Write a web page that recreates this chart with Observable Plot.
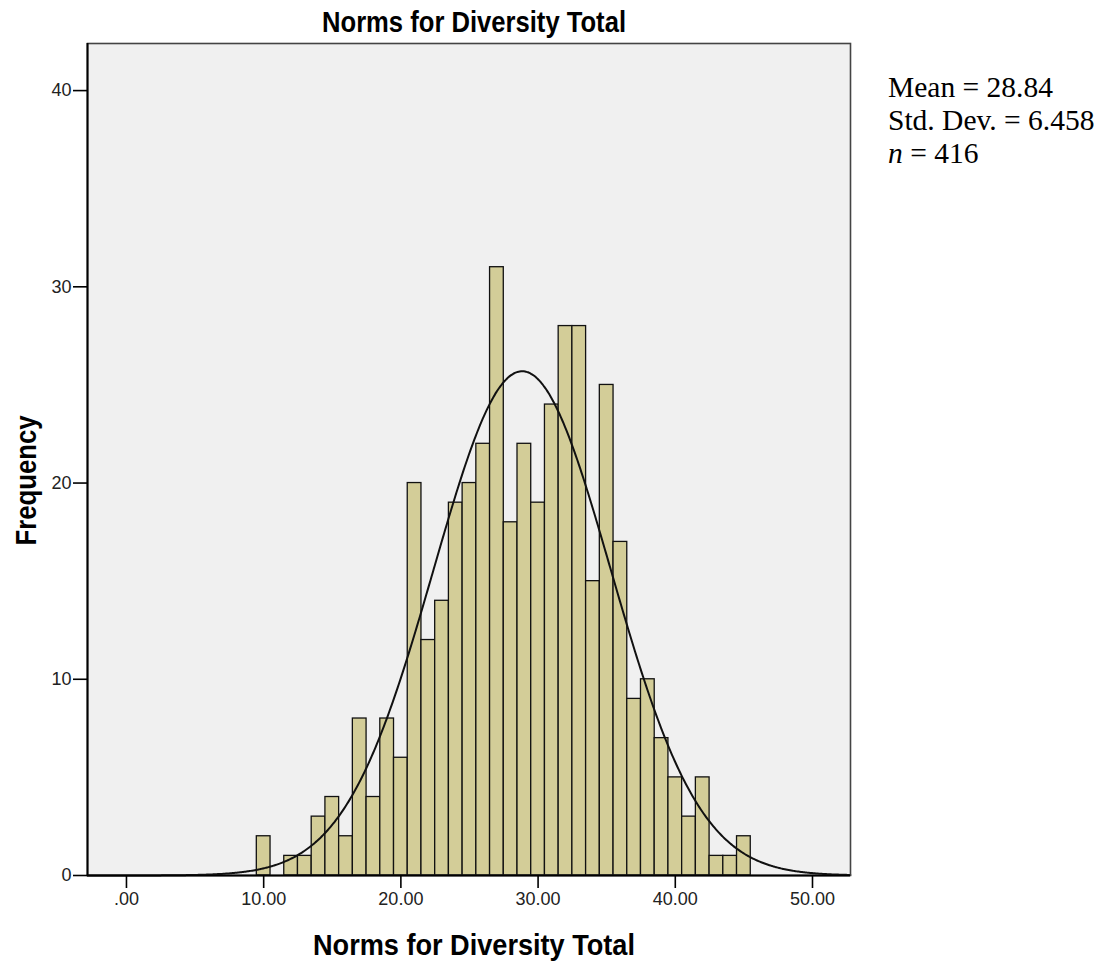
<!DOCTYPE html>
<html>
<head>
<meta charset="utf-8">
<script src="https://cdn.jsdelivr.net/npm/d3@7"></script>
<script src="https://cdn.jsdelivr.net/npm/@observablehq/plot@0.6"></script>
<style>
  html, body { margin: 0; padding: 0; background: #fff; }
  #wrap { position: relative; width: 1104px; height: 963px; }
  #stats { position: absolute; left: 888px; top: 71px; font-family: "Liberation Serif", "Times New Roman", serif; font-size: 29.5px; line-height: 33px; color: #000; white-space: nowrap; }
</style>
</head>
<body>
<div id="wrap"><div id="stats"></div></div>
<script>
// Histogram bins (centre of each 1-unit bin) and frequencies
const binCenters = [10, 11, 12, 13, 14, 15, 16, 17, 18, 19, 20, 21, 22, 23, 24, 25, 26, 27, 28, 29, 30,
                    31, 32, 33, 34, 35, 36, 37, 38, 39, 40, 41, 42, 43, 44, 45];
const frequencies = [2, 0, 1, 1, 3, 4, 2, 8, 4, 8, 6, 20, 12, 14, 19, 20, 22, 31, 18, 22, 19,
                     24, 28, 28, 15, 25, 17, 9, 10, 7, 5, 3, 5, 1, 1, 2];
const binWidth = 1;

// Summary statistics shown in the chart
const statMean = 28.84;
const statSD = 6.458;
const statN = 416;

// Axes
const xDomain = [-2.84, 52.77];
const yDomain = [0, 42.4];
const xTicks = [0, 10, 20, 30, 40, 50];
const xTickLabels = [".00", "10.00", "20.00", "30.00", "40.00", "50.00"];
const yTicks = [0, 10, 20, 30, 40];
const yTickLabels = ["0", "10", "20", "30", "40"];

const titleText = "Norms for Diversity Total";
const xLabel = "Norms for Diversity Total";
const yLabel = "Frequency";

const bars = binCenters.map((c, i) => ({x1: c - binWidth / 2, x2: c + binWidth / 2, y: frequencies[i]}))
  .filter(d => d.y > 0);

// Normal curve from the reported mean, SD and n
const curve = d3.range(xDomain[0], xDomain[1] + 0.001, 0.1).map(x => ({
  x,
  y: statN * binWidth * Math.exp(-0.5 * ((x - statMean) / statSD) ** 2) / (statSD * Math.sqrt(2 * Math.PI))
}));

const bold = "'Liberation Sans', Arial, sans-serif";

const chart = Plot.plot({
  width: 1104,
  height: 963,
  marginLeft: 87,
  marginRight: 254,
  marginTop: 43,
  marginBottom: 88,
  style: {fontFamily: "'Liberation Sans', Arial, sans-serif", fontSize: "18px", background: "#fff"},
  x: {domain: xDomain, label: null},
  y: {domain: yDomain, label: null},
  marks: [
    Plot.frame({fill: "#f0f0f0", stroke: null}),
    Plot.rectY(bars, {x1: "x1", x2: "x2", y: "y", fill: "#d3cd98", stroke: "#111", strokeWidth: 1.3}),
    Plot.line(curve, {x: "x", y: "y", stroke: "#111", strokeWidth: 2, curve: "natural"}),
    Plot.frame({stroke: "#444", strokeWidth: 1.6}),
    Plot.ruleX([xDomain[0]], {stroke: "#000", strokeWidth: 2}),
    Plot.ruleY([0], {stroke: "#000", strokeWidth: 2}),
    Plot.axisX({ticks: xTicks, tickFormat: d => xTickLabels[xTicks.indexOf(d)], tickSize: 13, tickPadding: 4, fontSize: 18, stroke: "#000", strokeWidth: 1.6, fill: "#222", label: null}),
    Plot.axisY({ticks: yTicks, tickFormat: d => yTickLabels[yTicks.indexOf(d)], tickSize: 14, tickPadding: 2, fontSize: 18, stroke: "#000", strokeWidth: 1.6, fill: "#222", label: null}),
    Plot.text([titleText], {frameAnchor: "top", textAnchor: "middle", lineAnchor: "bottom", dy: -12, dx: 5, fontSize: 29, fontWeight: "bold", fontFamily: bold, fill: "#000"}),
    Plot.text([xLabel], {frameAnchor: "bottom", textAnchor: "middle", lineAnchor: "middle", dy: 70, dx: 5, fontSize: 29, fontWeight: "bold", fontFamily: bold, fill: "#000"}),
    Plot.text([yLabel], {frameAnchor: "left", textAnchor: "middle", lineAnchor: "middle", rotate: -90, dx: -61, dy: 21, fontSize: 29, fontWeight: "bold", fontFamily: bold, fill: "#000"})
  ]
});

// Condense the bold titles to match the narrow face of the original
const svgText = d3.select(chart).selectAll("text");
svgText.filter(function () { return this.textContent === yLabel; })
  .attr("textLength", 130).attr("lengthAdjust", "spacingAndGlyphs");
const titleNodes = svgText.filter(function () { return this.textContent === titleText; }).nodes();
titleNodes.forEach((node, i) => {
  d3.select(node).attr("textLength", i === 0 ? 304 : 322).attr("lengthAdjust", "spacingAndGlyphs");
});

document.getElementById("wrap").prepend(chart);
document.getElementById("stats").innerHTML =
  `Mean = ${statMean.toFixed(2)}<br>Std. Dev. = ${statSD.toFixed(3)}<br><i>n</i> = ${statN}`;
</script>
</body>
</html>
